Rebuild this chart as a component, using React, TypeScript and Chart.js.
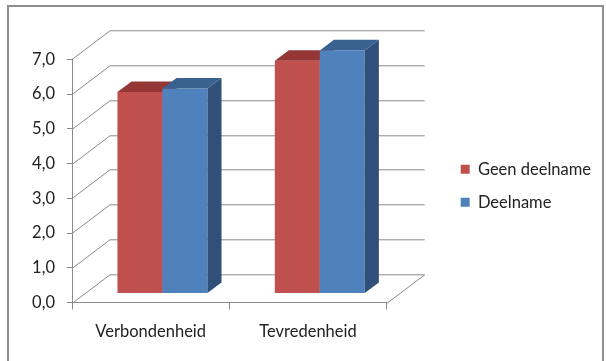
import React, { useEffect, useRef } from 'react';
import { Chart, registerables } from 'chart.js';

Chart.register(...registerables);

// ---- data ----
const categories = ['Verbondenheid', 'Tevredenheid'];
const seriesLabels = ['Geen deelname', 'Deelname'];
const geenDeelname = [5.8, 6.7];
const deelname = [5.9, 7.0];
const yTickValues = [0, 1, 2, 3, 4, 5, 6, 7];
const yTickLabels = ['0,0', '1,0', '2,0', '3,0', '4,0', '5,0', '6,0', '7,0'];

// ---- styles ----
const FONT = 'Lato, "Open Sans", sans-serif';
const FS = 16.5;
const TEXT = '#222222';
const GRID = '#8a8a8a';
const BACK = { dx: 38, dy: -28.7 }; // depth offset of back wall
const BAR_FRONT = 0.31; // depth fraction where bar fronts sit
const BAR_DEPTH = 0.37; // depth fraction of bars
const PLOT_RIGHT = 386.7;
const PAD_RIGHT = 5;
const faces = [
  { front: '#C0504D', top: '#943634', side: '#7F2D2B' },
  { front: '#4F81BD', top: '#3A6291', side: '#30507A' },
];

const threeD = {
  id: 'threeD',
  beforeDatasetsDraw(chart: any) {
    const { ctx, chartArea: a, scales } = chart;
    const y = scales.y;
    ctx.save();
    ctx.strokeStyle = GRID;
    ctx.lineWidth = 1;
    yTickValues.forEach((v) => {
      const py = Math.round(y.getPixelForValue(v)) + 0.5;
      ctx.beginPath();
      ctx.moveTo(a.left, py);
      ctx.lineTo(a.left + BACK.dx, py + BACK.dy);
      ctx.lineTo(a.right + BACK.dx, py + BACK.dy);
      ctx.stroke();
    });
    const pb = Math.round(a.bottom) + 0.5;
    ctx.beginPath();
    ctx.moveTo(a.right, pb);
    ctx.lineTo(a.right + BACK.dx, pb + BACK.dy);
    ctx.stroke();
    ctx.restore();
  },
  // bars are painted below in back-to-front order instead
  beforeDatasetDraw() {
    return false;
  },
  afterDatasetsDraw(chart: any) {
    const ctx = chart.ctx;
    const metas = chart.data.datasets.map((_d: any, i: number) => chart.getDatasetMeta(i));
    const dx = BACK.dx * BAR_DEPTH;
    const dy = BACK.dy * BAR_DEPTH;
    ctx.save();
    ctx.translate(BACK.dx * BAR_FRONT, BACK.dy * BAR_FRONT);
    categories.forEach((_c, j) => {
      metas.forEach((meta: any, i: number) => {
        const bar = meta.data[j];
        if (!bar) return;
        const c = faces[i];
        bar.draw(ctx);
        const { x, y, width, base } = bar.getProps(['x', 'y', 'width', 'base'], true);
        const l = x - width / 2;
        const r = x + width / 2;
        ctx.fillStyle = c.top;
        ctx.beginPath();
        ctx.moveTo(l, y);
        ctx.lineTo(r, y);
        ctx.lineTo(r + dx, y + dy);
        ctx.lineTo(l + dx, y + dy);
        ctx.closePath();
        ctx.fill();
        ctx.fillStyle = c.side;
        ctx.beginPath();
        ctx.moveTo(r, y);
        ctx.lineTo(r + dx, y + dy);
        ctx.lineTo(r + dx, base + dy);
        ctx.lineTo(r, base);
        ctx.closePath();
        ctx.fill();
      });
    });
    ctx.restore();
  },
};

export default function App() {
  const ref = useRef<HTMLCanvasElement>(null);
  useEffect(() => {
    const chart = new Chart(ref.current as HTMLCanvasElement, {
      type: 'bar',
      data: {
        labels: categories,
        datasets: [
          { label: seriesLabels[0], data: geenDeelname, backgroundColor: faces[0].front, borderWidth: 0 },
          { label: seriesLabels[1], data: deelname, backgroundColor: faces[1].front, borderWidth: 0 },
        ],
      },
      options: {
        responsive: false,
        devicePixelRatio: 1,
        animation: false,
        events: [],
        datasets: { bar: { categoryPercentage: 0.572, barPercentage: 1 } },
        layout: { padding: { left: 0, top: 18.6, right: PAD_RIGHT, bottom: 8 } },
        plugins: {
          tooltip: { enabled: false },
          legend: {
            position: 'right',
            maxWidth: 300,
            labels: {
              boxWidth: 9,
              boxHeight: 9,
              padding: 16.5,
              color: TEXT,
              font: { family: FONT, size: FS },
            },
          },
        },
        scales: {
          x: {
            grid: { display: true, offset: true, drawOnChartArea: false, drawTicks: true, tickLength: 7, color: GRID },
            border: { display: true, color: GRID },
            ticks: { color: TEXT, font: { family: FONT, size: FS }, padding: 12, maxRotation: 0 },
            afterFit: (s: any) => { s.height = 50.5; },
          },
          x2: {
            type: 'category',
            position: 'top',
            grid: { display: false },
            border: { display: false },
            ticks: { display: false },
            afterFit: (s: any) => { s.height = 40.7; },
          },
          y: {
            min: 0,
            max: 7,
            grid: { display: true, drawOnChartArea: false, drawTicks: true, tickLength: 5, color: GRID },
            border: { display: true, color: GRID },
            ticks: {
              stepSize: 1,
              color: TEXT,
              font: { family: FONT, size: FS },
              padding: 12,
              callback: (_v: any, i: number) => yTickLabels[i],
            },
            afterFit: (s: any) => { s.width = 72; },
          },
          y2: {
            type: 'linear',
            position: 'right',
            grid: { display: false },
            border: { display: false },
            ticks: { display: false },
            afterFit: (s: any) => {
              const lw = s.chart.legend ? s.chart.legend.width : 0;
              s.width = Math.max(0, s.chart.width - PAD_RIGHT - lw - PLOT_RIGHT);
            },
          },
        },
      },
      plugins: [threeD],
    });
    return () => chart.destroy();
  }, []);
  return (
    <div style={{ position: 'fixed', left: 0, top: 0, width: 606, height: 361, background: '#fff', overflow: 'hidden' }}>
      <canvas ref={ref} width={606} height={361} style={{ position: 'absolute', left: 0, top: 0, width: 606, height: 361 }} />
      <div style={{ position: 'absolute', left: 7, top: 5, width: 593, height: 400, border: '2px solid #8e8e8e', pointerEvents: 'none' }} />
    </div>
  );
}
